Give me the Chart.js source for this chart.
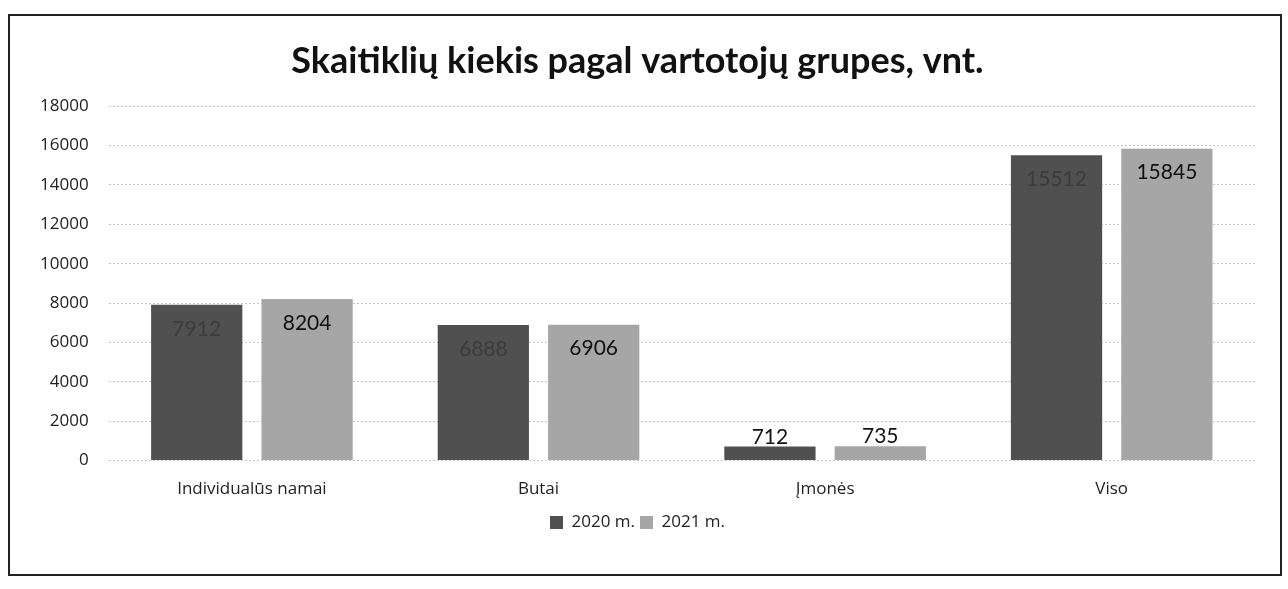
<!DOCTYPE html>
<html>
<head>
<meta charset="utf-8">
<script src="https://cdn.jsdelivr.net/npm/chart.js@4"></script>
<style>
  body { margin: 0; background: #fff; }
  #box { position: absolute; left: 8px; top: 14px; width: 1270px; height: 558px; border: 2px solid #222; background: #fff; }
</style>
</head>
<body>
<div id="box"><canvas id="myChart" width="1270" height="558"></canvas></div>
<script>
'use strict';
let categories = ['Individualūs namai', 'Butai', 'Įmonės', 'Viso'];
let values2020 = [7912, 6888, 712, 15512];
let values2021 = [8204, 6906, 735, 15845];
let yTicks = [0, 2000, 4000, 6000, 8000, 10000, 12000, 14000, 16000, 18000];

// value labels, inside top of the bar or above when the bar is short
let valueLabels = {
  id: 'valueLabels',
  afterDatasetsDraw(chart) {
    let ctx = chart.ctx;
    ctx.save();
    ctx.font = '21px Lato, "Open Sans", sans-serif';
    ctx.textAlign = 'center';
    chart.data.datasets.forEach(function (ds, i) {
      chart.getDatasetMeta(i).data.forEach(function (bar, j) {
        let h = bar.base - bar.y;
        let y = h > 40 ? bar.y + 24 : bar.y + 1;
        ctx.textBaseline = h > 40 ? 'middle' : 'bottom';
        ctx.fillStyle = (i === 0 && h > 40) ? '#3c3c3c' : '#111';
        ctx.fillText(ds.data[j], bar.x, y);
      });
    });
    ctx.restore();
  }
};

let ctx = document.getElementById('myChart').getContext('2d');
let chart = new Chart(ctx, {
  type: 'bar',
  data: {
    labels: categories,
    datasets: [
      { label: '2020 m.', data: values2020, backgroundColor: '#505050' },
      { label: '2021 m.', data: values2021, backgroundColor: '#a6a6a6' }
    ]
  },
  options: {
    responsive: false,
    animation: false,
    layout: { padding: { left: 10, right: 25, top: 0, bottom: 33 } },
    datasets: { bar: { categoryPercentage: 0.77, barPercentage: 0.827 } },
    plugins: {
      title: {
        display: true,
        text: 'Skaitiklių kiekis pagal vartotojų grupes, vnt.',
        color: '#111',
        font: { family: 'Lato, "Open Sans", sans-serif', size: 36, weight: 'bold' },
        padding: { top: 24, bottom: 23 }
      },
      legend: {
        position: 'bottom',
        labels: {
          color: '#222',
          font: { family: '"Open Sans", Lato, sans-serif', size: 17 },
          boxWidth: 13, boxHeight: 13, padding: 5
        }
      },
      tooltip: { enabled: false }
    },
    scales: {
      x: {
        grid: { display: false },
        border: { display: false },
        ticks: { color: '#222', font: { family: '"Open Sans", Lato, sans-serif', size: 17 }, padding: 10 }
      },
      y: {
        min: 0, max: 18000,
        afterBuildTicks(axis) { axis.ticks = yTicks.map(v => ({ value: v })); },
        grid: { color: '#c4c4c4', lineWidth: 1, drawTicks: false },
        border: { display: false, dash: [2, 2] },
        ticks: {
          color: '#222',
          font: { family: '"Open Sans", Lato, sans-serif', size: 17 },
          padding: 20,
          callback: function (v) { return String(v); }
        }
      }
    }
  },
  plugins: [valueLabels]
});
</script>
</body>
</html>
